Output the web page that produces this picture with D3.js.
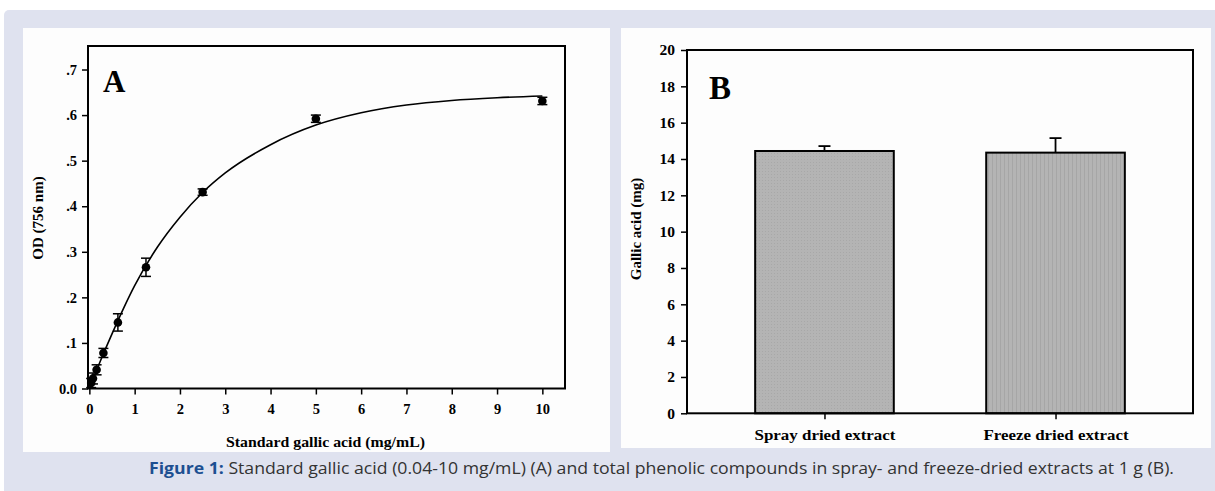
<!DOCTYPE html>
<html>
<head>
<meta charset="utf-8">
<script src="https://cdn.jsdelivr.net/npm/d3@7"></script>
<style>
  html, body { margin: 0; padding: 0; background: #ffffff; }
  svg { display: block; }
</style>
</head>
<body>
<svg id="chart" width="1215" height="491"></svg>
<script>
// ---------- DATA ----------
// Panel A: standard gallic acid calibration
const concA = [0.04, 0.08, 0.16, 0.31, 0.63, 1.25, 2.5, 5, 10];
const odA   = [0.012, 0.022, 0.041, 0.078, 0.145, 0.266, 0.431, 0.592, 0.631];
const errA  = [0.010, 0.012, 0.011, 0.010, 0.019, 0.020, 0.007, 0.008, 0.008];
// fitted curve
const curveX = [0, 0.25, 0.5, 1, 1.5, 2, 2.5, 3, 4, 5, 6, 7, 8, 9, 10];
const curveY = [0.0, 0.062, 0.120, 0.226, 0.310, 0.376, 0.430, 0.473, 0.535, 0.578, 0.605, 0.622, 0.632, 0.638, 0.642];
const xTicksA = [0, 1, 2, 3, 4, 5, 6, 7, 8, 9, 10];
const yTicksA = [0, 0.1, 0.2, 0.3, 0.4, 0.5, 0.6, 0.7];
const yTickLabelsA = ["0.0", ".1", ".2", ".3", ".4", ".5", ".6", ".7"];

// Panel B: total phenolic compounds
const categoriesB = ["Spray dried extract", "Freeze dried extract"];
const valuesB = [14.44, 14.35];
const errB = [0.27, 0.80];
const yTicksB = [0, 2, 4, 6, 8, 10, 12, 14, 16, 18, 20];

const captionBold = "Figure 1:";
const captionText = " Standard gallic acid (0.04-10 mg/mL) (A) and total phenolic compounds in spray- and freeze-dried extracts at 1 g (B).";

// ---------- LAYOUT ----------
const svg = d3.select("#chart");
const serif = "'Liberation Serif', 'Times New Roman', serif";

// background panel
svg.append("rect").attr("x", 4).attr("y", 10).attr("width", 1220).attr("height", 490)
  .attr("rx", 5).attr("fill", "#dfe2ef");
// white panels
svg.append("rect").attr("x", 23).attr("y", 28).attr("width", 587).attr("height", 424).attr("fill", "#fdfdfd");
svg.append("rect").attr("x", 621).attr("y", 28).attr("width", 590).attr("height", 420).attr("fill", "#fdfdfd");

// pattern for bars
const defs = svg.append("defs");
const pat1 = defs.append("pattern").attr("id", "pat1").attr("patternUnits", "userSpaceOnUse")
  .attr("width", 3).attr("height", 3);
pat1.append("rect").attr("width", 3).attr("height", 3).attr("fill", "#b4b4b4");
pat1.append("rect").attr("x", 0).attr("y", 0).attr("width", 1).attr("height", 1).attr("fill", "#a8a8a8");
const pat2 = defs.append("pattern").attr("id", "pat2").attr("patternUnits", "userSpaceOnUse")
  .attr("width", 4).attr("height", 4);
pat2.append("rect").attr("width", 4).attr("height", 4).attr("fill", "#b4b4b4");
pat2.append("rect").attr("x", 0).attr("y", 0).attr("width", 1).attr("height", 4).attr("fill", "#a6a6a6");

// ---------- PANEL A ----------
const fA = { left: 88, right: 565, top: 46, bottom: 388.5 };
const xA = d3.scaleLinear().domain([-0.03, 10.5]).range([fA.left, fA.right]);
const yA = d3.scaleLinear().domain([0, 0.7516]).range([fA.bottom, fA.top]);

const gA = svg.append("g");
// x axis
const xAxisA = d3.axisBottom(xA).tickValues(xTicksA).tickSize(6).tickFormat(d3.format("d"));
const gxA = gA.append("g").attr("transform", `translate(0,${fA.bottom})`).call(xAxisA);
gxA.select(".domain").remove();
gxA.selectAll("line").attr("stroke", "#000").attr("stroke-width", 1.5);
gxA.selectAll("text").attr("dy", "1.0em").attr("y", 11)
  .style("font-family", serif).style("font-weight", "bold").style("font-size", "14.5px").attr("fill", "#000");
// y axis
const yAxisA = d3.axisLeft(yA).tickValues(yTicksA).tickSize(6).tickFormat((d, i) => yTickLabelsA[i]);
const gyA = gA.append("g").attr("transform", `translate(${fA.left},0)`).call(yAxisA);
gyA.select(".domain").remove();
gyA.selectAll("line").attr("stroke", "#000").attr("stroke-width", 1.5);
gyA.selectAll("text").attr("x", -11)
  .style("font-family", serif).style("font-weight", "bold").style("font-size", "14.5px").attr("fill", "#000");
// frame
gA.append("rect").attr("x", fA.left).attr("y", fA.top).attr("width", fA.right - fA.left)
  .attr("height", fA.bottom - fA.top).attr("fill", "none").attr("stroke", "#000").attr("stroke-width", 2);

// fitted curve
const line = d3.line().x(d => xA(d[0])).y(d => yA(d[1])).curve(d3.curveMonotoneX);
gA.append("path").datum(curveX.map((x, i) => [x, curveY[i]]))
  .attr("d", line).attr("fill", "none").attr("stroke", "#000").attr("stroke-width", 1.6);

// error bars + points
const ptsA = concA.map((x, i) => ({ x, y: odA[i], e: errA[i] }));
const eb = gA.append("g").attr("stroke", "#000").attr("stroke-width", 1.5);
ptsA.forEach(p => {
  const cx = xA(p.x), y1 = yA(p.y + p.e), y2 = yA(p.y - p.e);
  eb.append("line").attr("x1", cx).attr("x2", cx).attr("y1", y1).attr("y2", y2);
  eb.append("line").attr("x1", cx - 5).attr("x2", cx + 5).attr("y1", y1).attr("y2", y1);
  eb.append("line").attr("x1", cx - 5).attr("x2", cx + 5).attr("y1", y2).attr("y2", y2);
});
gA.selectAll("circle.pt").data(ptsA).join("circle").attr("class", "pt")
  .attr("cx", d => xA(d.x)).attr("cy", d => yA(d.y)).attr("r", 4.3).attr("fill", "#000");

// labels
gA.append("text").attr("x", 103).attr("y", 92).text("A")
  .style("font-family", serif).style("font-weight", "bold").style("font-size", "31px");
gA.append("text").attr("x", 226).attr("y", 447)
  .attr("textLength", 199).attr("lengthAdjust", "spacingAndGlyphs")
  .text("Standard gallic acid (mg/mL)")
  .style("font-family", serif).style("font-weight", "bold").style("font-size", "14.5px");
gA.append("text").attr("transform", `translate(43,218) rotate(-90)`)
  .attr("text-anchor", "middle").text("OD (756 nm)")
  .style("font-family", serif).style("font-weight", "bold").style("font-size", "15px");

// ---------- PANEL B ----------
const fB = { left: 687, right: 1193, top: 50, bottom: 413.3 };
const xB = d3.scalePoint().domain(categoriesB).range([fB.left, fB.right]).padding(0.595);
const yB = d3.scaleLinear().domain([0, 20]).range([fB.bottom, fB.top]);
const barW = xB.step() * 0.6;

const gB = svg.append("g");
// bars
gB.selectAll("rect.bar").data(categoriesB).join("rect").attr("class", "bar")
  .attr("x", d => xB(d) - barW / 2).attr("width", barW)
  .attr("y", (d, i) => yB(valuesB[i])).attr("height", (d, i) => yB(0) - yB(valuesB[i]))
  .attr("fill", (d, i) => i === 0 ? "url(#pat1)" : "url(#pat2)")
  .attr("stroke", "#000").attr("stroke-width", 2);
// error bars (upper only)
categoriesB.forEach((c, i) => {
  const cx = xB(c), y0 = yB(valuesB[i]), y1 = yB(valuesB[i] + errB[i]);
  gB.append("line").attr("x1", cx).attr("x2", cx).attr("y1", y0).attr("y2", y1)
    .attr("stroke", "#000").attr("stroke-width", 1.8);
  gB.append("line").attr("x1", cx - 6).attr("x2", cx + 6).attr("y1", y1).attr("y2", y1)
    .attr("stroke", "#000").attr("stroke-width", 1.8);
});
// axes
const yAxisB = d3.axisLeft(yB).tickValues(yTicksB).tickSize(6).tickFormat(d3.format("d"));
const gyB = gB.append("g").attr("transform", `translate(${fB.left},0)`).call(yAxisB);
gyB.select(".domain").remove();
gyB.selectAll("line").attr("stroke", "#000").attr("stroke-width", 1.5);
gyB.selectAll("text").attr("x", -12)
  .style("font-family", serif).style("font-weight", "bold").style("font-size", "15.5px").attr("fill", "#000");
const xAxisB = d3.axisBottom(xB).tickSize(6);
const gxB = gB.append("g").attr("transform", `translate(0,${fB.bottom})`).call(xAxisB);
gxB.select(".domain").remove();
gxB.selectAll("line").attr("stroke", "#000").attr("stroke-width", 1.5);
gxB.selectAll("text").attr("y", 12).attr("dy", "0.95em")
  .attr("textLength", (d, i) => i === 0 ? 141 : 145).attr("lengthAdjust", "spacingAndGlyphs")
  .style("font-family", serif).style("font-weight", "bold").style("font-size", "15.5px").attr("fill", "#000");
// frame
gB.append("rect").attr("x", fB.left).attr("y", fB.top).attr("width", fB.right - fB.left)
  .attr("height", fB.bottom - fB.top).attr("fill", "none").attr("stroke", "#000").attr("stroke-width", 2);

gB.append("text").attr("x", 709).attr("y", 99).text("B")
  .style("font-family", serif).style("font-weight", "bold").style("font-size", "33px");
gB.append("text").attr("transform", `translate(641,229) rotate(-90)`)
  .attr("text-anchor", "middle").text("Gallic acid (mg)")
  .style("font-family", serif).style("font-weight", "bold").style("font-size", "15px");

// ---------- CAPTION ----------
const cap = svg.append("text").attr("x", 149).attr("y", 474)
  .attr("textLength", 1025).attr("lengthAdjust", "spacingAndGlyphs")
  .style("font-family", "'Open Sans', sans-serif").style("font-size", "16.5px");
cap.append("tspan").text(captionBold).attr("fill", "#1d4f91").style("font-weight", "bold");
cap.append("tspan").text(captionText).attr("fill", "#333");
</script>
</body>
</html>
